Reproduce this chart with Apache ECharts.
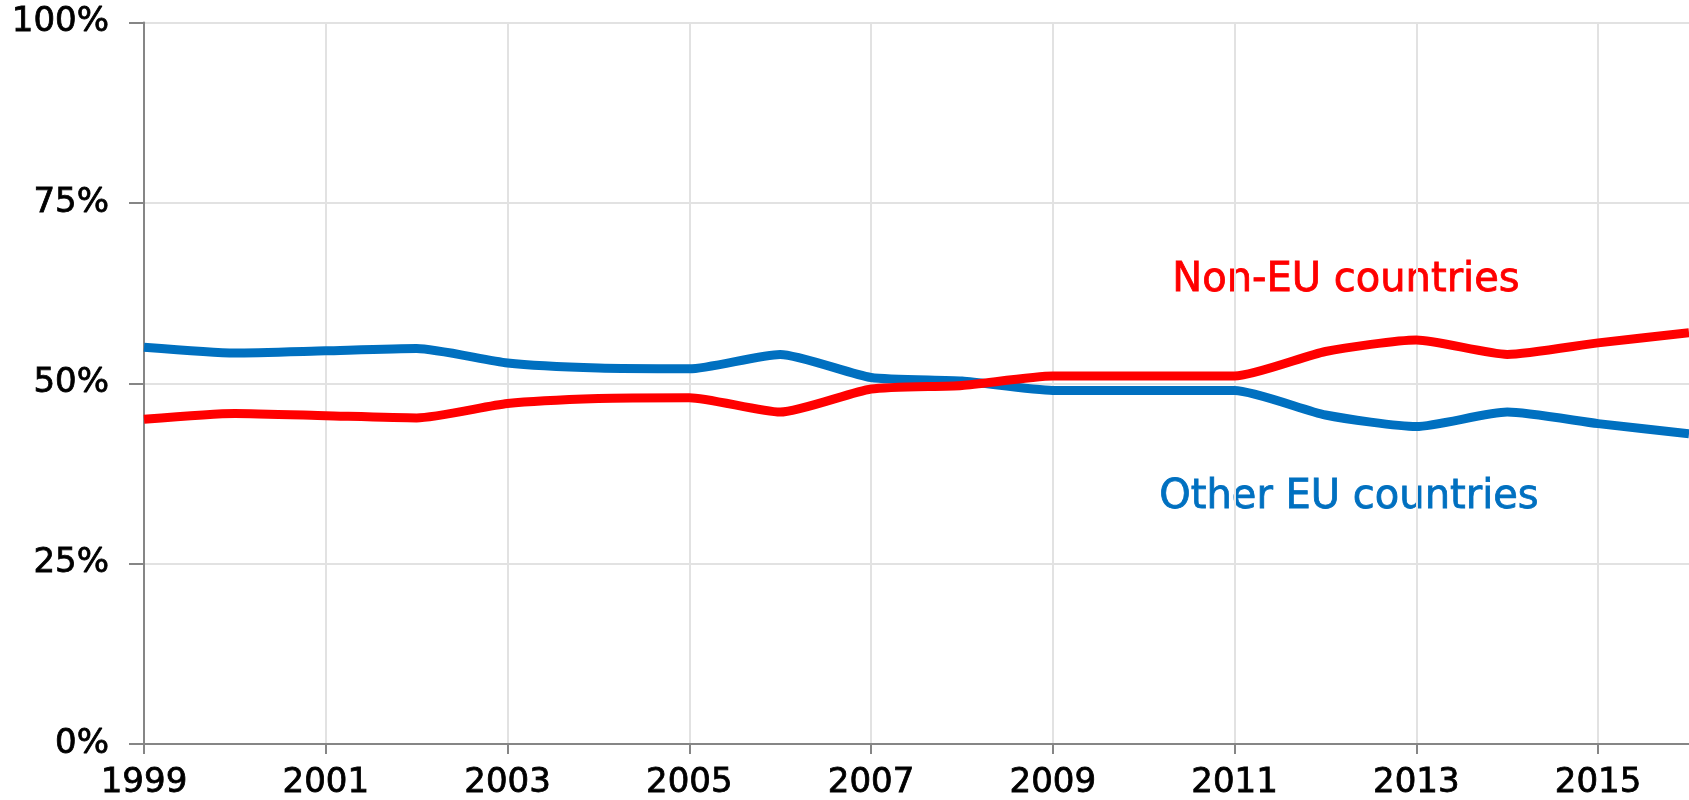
<!DOCTYPE html>
<html>
<head>
<meta charset="utf-8">
<script src="https://cdn.jsdelivr.net/npm/echarts@6/dist/echarts.min.js"></script>
<style>
  html, body { margin: 0; padding: 0; background: #fff; }
  #chart { width: 1689px; height: 800px; }
</style>
</head>
<body>
<div id="chart"></div>
<script>
const years = ['1999', '2000', '2001', '2002', '2003', '2004', '2005', '2006', '2007',
  '2008', '2009', '2010', '2011', '2012', '2013', '2014', '2015', '2016'];
const otherEU = [55, 54.2, 54.5, 54.8, 52.8, 52.1, 52, 54, 50.8, 50.3, 49, 49, 49, 45.6, 44, 46, 44.4, 43];
const nonEU = [45, 45.8, 45.5, 45.2, 47.2, 47.9, 48, 46, 49.2, 49.7, 51, 51, 51, 54.4, 56, 54, 55.6, 57];
const yTicks = [0, 25, 50, 75, 100];

const FONT = 'DejaVu Sans';
const chart = echarts.init(document.getElementById('chart'));

// the source text is heavier than DejaVu regular, a thin outline in the same colour helps
const labelStyle = {
  color: '#000',
  fontFamily: FONT,
  fontSize: 34,
  textBorderColor: '#000',
  textBorderWidth: 0.8
};

const option = {
  animation: false,
  grid: {
    left: 144,
    right: 0,
    top: 22.5,
    bottom: 56,
    outerBoundsMode: 'none'
  },
  xAxis: {
    type: 'category',
    data: years,
    boundaryGap: false,
    axisLine: { lineStyle: { color: '#868686', width: 2 } },
    axisTick: { interval: 1, length: 10, lineStyle: { color: '#868686', width: 2 } },
    axisLabel: Object.assign({ interval: 1, margin: 22 }, labelStyle),
    splitLine: { show: true, interval: 1, lineStyle: { color: '#e2e2e2', width: 2 } }
  },
  yAxis: {
    type: 'value',
    min: yTicks[0],
    max: yTicks[yTicks.length - 1],
    interval: 25,
    axisLine: { show: true, lineStyle: { color: '#868686', width: 2 } },
    axisTick: { show: true, length: 15, lineStyle: { color: '#868686', width: 2 } },
    axisLabel: Object.assign({
      margin: 35,
      formatter: '{value}%',
      padding: [0, 0, 9, 0]
    }, labelStyle),
    splitLine: { lineStyle: { color: '#e2e2e2', width: 2 } }
  },
  series: [
    {
      name: 'Other EU countries',
      type: 'line',
      data: otherEU,
      symbol: 'none',
      smooth: 0.2,
      lineStyle: { color: '#0070c0', width: 9, join: 'round' }
    },
    {
      name: 'Non-EU countries',
      type: 'line',
      data: nonEU,
      symbol: 'none',
      smooth: 0.2,
      lineStyle: { color: '#ff0000', width: 9, join: 'round' }
    }
  ],
  graphic: [
    {
      type: 'text',
      style: {
        text: 'Non-EU countries',
        x: 1346, y: 281,
        align: 'center', verticalAlign: 'middle',
        fill: '#ff0000',
        stroke: '#ff0000',
        lineWidth: 0.8,
        font: '40px "DejaVu Sans"'
      }
    },
    {
      type: 'text',
      style: {
        text: 'Other EU countries',
        x: 1349, y: 498,
        align: 'center', verticalAlign: 'middle',
        fill: '#0070c0',
        stroke: '#0070c0',
        lineWidth: 0.8,
        font: '40px "DejaVu Sans"'
      }
    }
  ]
};

chart.setOption(option);
</script>
</body>
</html>
